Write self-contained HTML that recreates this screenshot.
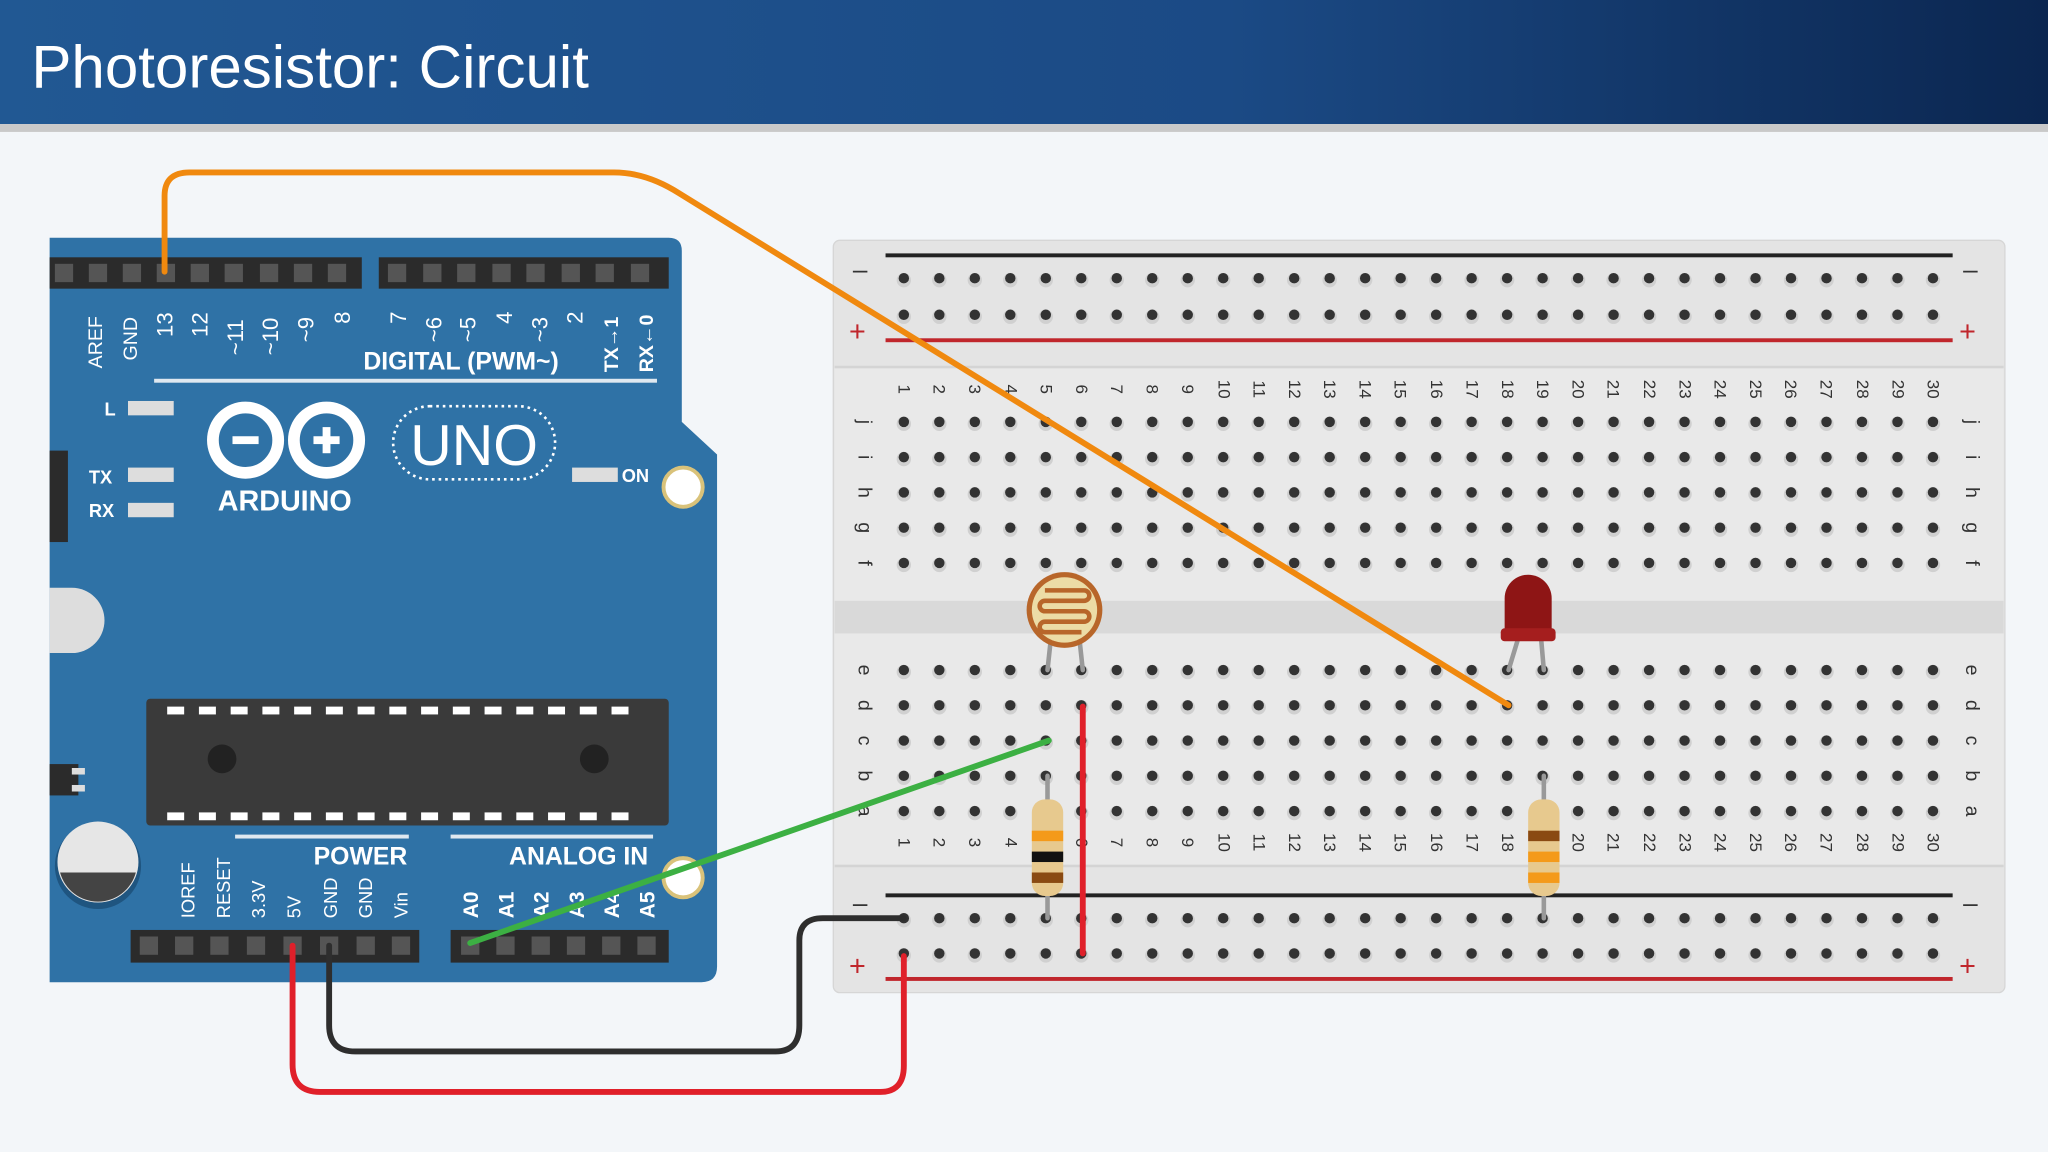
<!DOCTYPE html>
<html><head><meta charset="utf-8"><style>
html,body{margin:0;padding:0;background:#f3f6f9;}
svg{display:block}
text{font-family:"Liberation Sans",sans-serif;}
</style></head><body>
<svg id="s" width="2048" height="1152" viewBox="0 0 1568 882" xmlns="http://www.w3.org/2000/svg">
<defs>
<linearGradient id="hg" x1="0" x2="1" y1="0" y2="0"><stop offset="0" stop-color="#215893"/><stop offset="0.6" stop-color="#1b4a85"/><stop offset="1" stop-color="#0b2650"/></linearGradient>
</defs>
<rect width="1568" height="882" fill="#f3f6f9"/>
<rect width="1568" height="95" fill="url(#hg)"/>
<rect y="95" width="1568" height="6" fill="#c9c9c9"/>
<text x="24" y="67" font-size="46" fill="#fff">Photoresistor: Circuit</text>

<!-- Arduino board -->
<path d="M38,182 H512 Q522,182 522,192 V323 L549,348 V740 Q549,752 537,752 H38 Z" fill="#2f72a6"/>
<rect x="38" y="197" width="239" height="24" fill="#2b2b2b"/>
<rect x="290" y="197" width="222" height="24" fill="#2b2b2b"/>
<g fill="#555">
<rect x="42" y="202" width="14" height="14"/><rect x="68" y="202" width="14" height="14"/><rect x="94" y="202" width="14" height="14"/><rect x="120" y="202" width="14" height="14"/><rect x="146" y="202" width="14" height="14"/><rect x="172" y="202" width="14" height="14"/><rect x="199" y="202" width="14" height="14"/><rect x="225" y="202" width="14" height="14"/><rect x="251" y="202" width="14" height="14"/>
<rect x="297" y="202" width="14" height="14"/><rect x="324" y="202" width="14" height="14"/><rect x="350" y="202" width="14" height="14"/><rect x="377" y="202" width="14" height="14"/><rect x="403" y="202" width="14" height="14"/><rect x="430" y="202" width="14" height="14"/><rect x="456" y="202" width="14" height="14"/><rect x="483" y="202" width="14" height="14"/>
</g>
<g fill="#fff" font-size="15">
<text transform="translate(78,282) rotate(-90)">AREF</text>
<text transform="translate(105,276) rotate(-90)">GND</text>
<text transform="translate(132,258) rotate(-90)" font-size="17">13</text>
<text transform="translate(159,258) rotate(-90)" font-size="17">12</text>
<text transform="translate(186,272) rotate(-90)" font-size="17">~11</text>
<text transform="translate(213,272) rotate(-90)" font-size="17">~10</text>
<text transform="translate(240,262) rotate(-90)" font-size="17">~9</text>
<text transform="translate(268,248) rotate(-90)" font-size="17">8</text>
<text transform="translate(311,248) rotate(-90)" font-size="17">7</text>
<text transform="translate(338,262) rotate(-90)" font-size="17">~6</text>
<text transform="translate(364,262) rotate(-90)" font-size="17">~5</text>
<text transform="translate(392,248) rotate(-90)" font-size="17">4</text>
<text transform="translate(419,262) rotate(-90)" font-size="17">~3</text>
<text transform="translate(446,248) rotate(-90)" font-size="17">2</text>
<text transform="translate(473,285) rotate(-90)" font-size="15" font-weight="bold">TX→1</text>
<text transform="translate(500,285) rotate(-90)" font-size="15" font-weight="bold">RX←0</text>
</g>
<text x="353" y="283" font-size="19" font-weight="bold" fill="#fff" text-anchor="middle">DIGITAL (PWM~)</text>
<rect x="118" y="290" width="385" height="3" fill="#dfe8f0"/>
<g fill="#ddd"><rect x="98" y="307" width="35" height="11"/><rect x="98" y="358" width="35" height="11"/><rect x="98" y="385" width="35" height="11"/><rect x="438" y="358" width="35" height="11"/></g>
<g fill="#fff" font-size="14" font-weight="bold"><text x="80" y="318">L</text><text x="68" y="370">TX</text><text x="68" y="396">RX</text><text x="476" y="369">ON</text></g>
<circle cx="188" cy="337" r="25" fill="none" stroke="#fff" stroke-width="9"/>
<circle cx="250" cy="337" r="25" fill="none" stroke="#fff" stroke-width="9"/>
<rect x="178" y="334" width="20" height="6" fill="#fff"/><rect x="240" y="334" width="20" height="6" fill="#fff"/><rect x="247" y="327" width="6" height="20" fill="#fff"/>
<text x="218" y="391" font-size="22" font-weight="bold" fill="#fff" text-anchor="middle">ARDUINO</text>
<rect x="301" y="311" width="124" height="56" rx="28" fill="none" stroke="#fff" stroke-width="2" stroke-dasharray="2 3"/>
<text x="363" y="356" font-size="44" fill="#fff" text-anchor="middle">UNO</text>
<circle cx="523" cy="373" r="15" fill="#fff" stroke="#d9c27a" stroke-width="3"/>
<circle cx="523" cy="672" r="15" fill="#fff" stroke="#d9c27a" stroke-width="3"/>
<rect x="38" y="345" width="14" height="70" fill="#2b2b2b"/>
<path d="M38,450 H55 A25,25 0 0 1 55,500 H38 Z" fill="#ddd"/>
<rect x="38" y="585" width="22" height="24" fill="#2b2b2b"/>
<rect x="55" y="588" width="10" height="5" fill="#ddd"/><rect x="55" y="601" width="10" height="5" fill="#ddd"/>
<circle cx="75" cy="663" r="33" fill="#1f5580"/>
<circle cx="75" cy="660" r="31" fill="#e6e6e6"/>
<path d="M46,668 A30,30 0 0 0 104,668 Z" fill="#444"/>
<rect x="112" y="535" width="400" height="97" rx="3" fill="#3a3a3a"/>
<g fill="#fff" id="chipPins"></g>
<circle cx="170" cy="581" r="11" fill="#222"/><circle cx="455" cy="581" r="11" fill="#222"/>
<text x="276" y="662" font-size="19" font-weight="bold" fill="#fff" text-anchor="middle">POWER</text>
<rect x="180" y="639" width="133" height="3" fill="#dfe8f0"/>
<text x="443" y="662" font-size="19" font-weight="bold" fill="#fff" text-anchor="middle">ANALOG IN</text>
<rect x="345" y="639" width="155" height="3" fill="#dfe8f0"/>
<g fill="#fff" font-size="14">
<text transform="translate(149,703) rotate(-90)">IOREF</text>
<text transform="translate(176,703) rotate(-90)">RESET</text>
<text transform="translate(203,703) rotate(-90)">3.3V</text>
<text transform="translate(230,703) rotate(-90)">5V</text>
<text transform="translate(258,703) rotate(-90)">GND</text>
<text transform="translate(285,703) rotate(-90)">GND</text>
<text transform="translate(312,703) rotate(-90)">Vin</text>
<g font-weight="bold" font-size="16">
<text transform="translate(366,703) rotate(-90)">A0</text>
<text transform="translate(393,703) rotate(-90)">A1</text>
<text transform="translate(420,703) rotate(-90)">A2</text>
<text transform="translate(447,703) rotate(-90)">A3</text>
<text transform="translate(474,703) rotate(-90)">A4</text>
<text transform="translate(501,703) rotate(-90)">A5</text></g>
</g>
<rect x="100" y="712" width="221" height="25" fill="#2b2b2b"/>
<rect x="345" y="712" width="167" height="25" fill="#2b2b2b"/>
<g fill="#555">
<rect x="107" y="717" width="14" height="14"/><rect x="134" y="717" width="14" height="14"/><rect x="161" y="717" width="14" height="14"/><rect x="189" y="717" width="14" height="14"/><rect x="217" y="717" width="14" height="14"/><rect x="245" y="717" width="14" height="14"/><rect x="273" y="717" width="14" height="14"/><rect x="300" y="717" width="14" height="14"/>
<rect x="353" y="717" width="14" height="14"/><rect x="380" y="717" width="14" height="14"/><rect x="407" y="717" width="14" height="14"/><rect x="434" y="717" width="14" height="14"/><rect x="461" y="717" width="14" height="14"/><rect x="488" y="717" width="14" height="14"/>
</g>

<!-- Breadboard -->
<rect x="638" y="184" width="897" height="576" rx="5" fill="#e4e4e4" stroke="#d6d6d6"/>
<rect x="639" y="280" width="895" height="384" fill="#e9e9e9"/>
<rect x="639" y="460" width="895" height="25" fill="#d9d9d9"/>
<rect x="639" y="280" width="895" height="2" fill="#d4d4d4"/><rect x="639" y="662" width="895" height="2" fill="#d4d4d4"/>
<rect x="678" y="194" width="817" height="3" fill="#222"/>
<rect x="678" y="259" width="817" height="3" fill="#c0262c"/>
<rect x="678" y="684" width="817" height="3" fill="#222"/>
<rect x="678" y="748" width="817" height="3" fill="#c0262c"/>
<g fill="#333" font-size="20"><text x="653" y="213">–</text><text x="1503" y="213">–</text><text x="653" y="698">–</text><text x="1503" y="698">–</text></g>
<g fill="#c0262c" font-size="22"><text x="650" y="261">+</text><text x="1500" y="261">+</text><text x="650" y="747">+</text><text x="1500" y="747">+</text></g>
<g id="dots"></g>
<g fill="#333" font-size="15" text-anchor="middle" dominant-baseline="central" id="lbl">
<text transform="translate(662,323) rotate(90)">j</text><text transform="translate(662,350) rotate(90)">i</text><text transform="translate(662,377) rotate(90)">h</text><text transform="translate(662,404) rotate(90)">g</text><text transform="translate(662,431) rotate(90)">f</text>
<text transform="translate(662,513) rotate(90)">e</text><text transform="translate(662,540) rotate(90)">d</text><text transform="translate(662,567) rotate(90)">c</text><text transform="translate(662,594) rotate(90)">b</text><text transform="translate(662,621) rotate(90)">a</text>
<text transform="translate(1510,323) rotate(90)">j</text><text transform="translate(1510,350) rotate(90)">i</text><text transform="translate(1510,377) rotate(90)">h</text><text transform="translate(1510,404) rotate(90)">g</text><text transform="translate(1510,431) rotate(90)">f</text>
<text transform="translate(1510,513) rotate(90)">e</text><text transform="translate(1510,540) rotate(90)">d</text><text transform="translate(1510,567) rotate(90)">c</text><text transform="translate(1510,594) rotate(90)">b</text><text transform="translate(1510,621) rotate(90)">a</text>
</g>
<g fill="#333" font-size="13" text-anchor="middle" dominant-baseline="central">
<text transform="translate(692,298) rotate(90)">1</text><text transform="translate(719,298) rotate(90)">2</text><text transform="translate(746,298) rotate(90)">3</text><text transform="translate(774,298) rotate(90)">4</text><text transform="translate(801,298) rotate(90)">5</text><text transform="translate(828,298) rotate(90)">6</text><text transform="translate(855,298) rotate(90)">7</text><text transform="translate(882,298) rotate(90)">8</text><text transform="translate(909,298) rotate(90)">9</text><text transform="translate(937,298) rotate(90)">10</text><text transform="translate(964,298) rotate(90)">11</text><text transform="translate(991,298) rotate(90)">12</text><text transform="translate(1018,298) rotate(90)">13</text><text transform="translate(1045,298) rotate(90)">14</text><text transform="translate(1072,298) rotate(90)">15</text><text transform="translate(1100,298) rotate(90)">16</text><text transform="translate(1127,298) rotate(90)">17</text><text transform="translate(1154,298) rotate(90)">18</text><text transform="translate(1181,298) rotate(90)">19</text><text transform="translate(1208,298) rotate(90)">20</text><text transform="translate(1235,298) rotate(90)">21</text><text transform="translate(1263,298) rotate(90)">22</text><text transform="translate(1290,298) rotate(90)">23</text><text transform="translate(1317,298) rotate(90)">24</text><text transform="translate(1344,298) rotate(90)">25</text><text transform="translate(1371,298) rotate(90)">26</text><text transform="translate(1398,298) rotate(90)">27</text><text transform="translate(1426,298) rotate(90)">28</text><text transform="translate(1453,298) rotate(90)">29</text><text transform="translate(1480,298) rotate(90)">30</text>
<text transform="translate(692,645) rotate(90)">1</text><text transform="translate(719,645) rotate(90)">2</text><text transform="translate(746,645) rotate(90)">3</text><text transform="translate(774,645) rotate(90)">4</text><text transform="translate(801,645) rotate(90)">5</text><text transform="translate(828,645) rotate(90)">6</text><text transform="translate(855,645) rotate(90)">7</text><text transform="translate(882,645) rotate(90)">8</text><text transform="translate(909,645) rotate(90)">9</text><text transform="translate(937,645) rotate(90)">10</text><text transform="translate(964,645) rotate(90)">11</text><text transform="translate(991,645) rotate(90)">12</text><text transform="translate(1018,645) rotate(90)">13</text><text transform="translate(1045,645) rotate(90)">14</text><text transform="translate(1072,645) rotate(90)">15</text><text transform="translate(1100,645) rotate(90)">16</text><text transform="translate(1127,645) rotate(90)">17</text><text transform="translate(1154,645) rotate(90)">18</text><text transform="translate(1181,645) rotate(90)">19</text><text transform="translate(1208,645) rotate(90)">20</text><text transform="translate(1235,645) rotate(90)">21</text><text transform="translate(1263,645) rotate(90)">22</text><text transform="translate(1290,645) rotate(90)">23</text><text transform="translate(1317,645) rotate(90)">24</text><text transform="translate(1344,645) rotate(90)">25</text><text transform="translate(1371,645) rotate(90)">26</text><text transform="translate(1398,645) rotate(90)">27</text><text transform="translate(1426,645) rotate(90)">28</text><text transform="translate(1453,645) rotate(90)">29</text><text transform="translate(1480,645) rotate(90)">30</text>
</g>

<!-- components -->
<g stroke="#999" stroke-width="3.5" fill="none" stroke-linecap="round">
<path d="M805,485 L802,513"/><path d="M826,485 L829,513"/>
<path d="M1162,490 L1155,513"/><path d="M1180,490 L1182,513"/>
<path d="M802,594 V703"/><path d="M1182,594 V703"/>
</g>
<circle cx="815" cy="467" r="29" fill="#b8662a"/>
<circle cx="815" cy="467" r="25" fill="#ecdca6"/>
<path d="M800,452 H830 M830,452 A4,4 0 0 1 830,460 H800 A4,4 0 0 0 800,468 H830 A4,4 0 0 1 830,476 H800 A4,4 0 0 0 800,484 H828" stroke="#b8662a" stroke-width="3.5" fill="none"/>
<path d="M1152,458 A18,18 0 0 1 1188,458 V484 H1152 Z" fill="#8e1515"/>
<rect x="1149" y="481" width="42" height="10" rx="3" fill="#a51e1e"/>
<g>
<rect x="790" y="612" width="24" height="74" rx="10" fill="#e7c98e"/>
<rect x="790" y="636" width="24" height="8" fill="#f49a1a"/>
<rect x="790" y="652" width="24" height="8" fill="#111"/>
<rect x="790" y="668" width="24" height="8" fill="#8a4a12"/>
<rect x="1170" y="612" width="24" height="74" rx="10" fill="#e7c98e"/>
<rect x="1170" y="636" width="24" height="8" fill="#8a4a12"/>
<rect x="1170" y="652" width="24" height="8" fill="#f49a1a"/>
<rect x="1170" y="668" width="24" height="8" fill="#f49a1a"/>
</g>

<!-- wires -->
<g fill="none" stroke-width="4.5" stroke-linecap="round" stroke-linejoin="round">
<path d="M126,208 V150 Q126,132 145,132 H470 Q495,132 520,148 L1155,540" stroke="#f0890f"/>
<path d="M360,722 L803,567" stroke="#3cb043"/>
<path d="M829,541 V730" stroke="#e0202a"/>
<path d="M224,724 V815 Q224,836 245,836 H674 Q692,836 692,816 V732" stroke="#e0202a"/>
<path d="M252,724 V785 Q252,805 272,805 H594 Q612,805 612,785 V720 Q612,703 630,703 H692" stroke="#2e2e2e"/>
</g>
</svg>
<script>
(function(){
var ns="http://www.w3.org/2000/svg";
var d=document.getElementById("dots");
function dot(x,y){var c=document.createElementNS(ns,"circle");c.setAttribute("cx",x);c.setAttribute("cy",y+1.5);c.setAttribute("r",5.5);c.setAttribute("fill","#d0d0d0");d.appendChild(c);
var e=document.createElementNS(ns,"circle");e.setAttribute("cx",x);e.setAttribute("cy",y);e.setAttribute("r",4);e.setAttribute("fill","#333");d.appendChild(e);}
var rows=[213,241,323,350,377,404,431,513,540,567,594,621,703,730];
for(var i=0;i<30;i++){var x=692+27.17*i;for(var r=0;r<rows.length;r++)dot(x,rows[r]);}
var p=document.getElementById("chipPins");
for(var k=0;k<15;k++){var x0=128+k*24.3;
["541","622"].forEach(function(y){var r=document.createElementNS(ns,"rect");r.setAttribute("x",x0);r.setAttribute("y",y);r.setAttribute("width",13);r.setAttribute("height",6);r.setAttribute("fill","#fff");p.appendChild(r);});}
})();
</script>
</body></html>
